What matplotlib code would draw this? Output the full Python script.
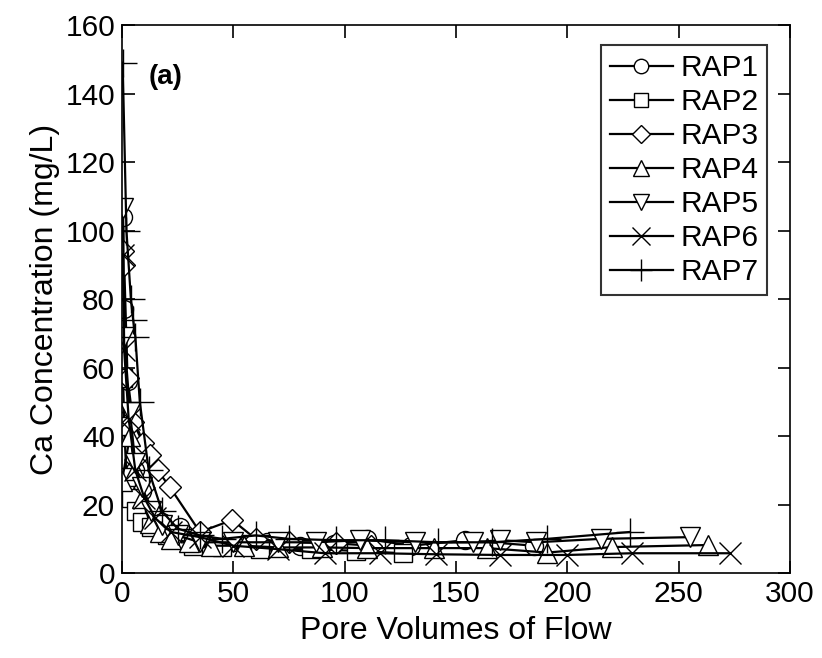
import matplotlib
matplotlib.use("Agg")
import matplotlib.pyplot as plt

plt.rcParams['font.family'] = ['Liberation Sans', 'DejaVu Sans']

rap1_x = [0.5, 1.0, 2.5, 4, 6, 9, 13, 18, 26, 35, 50, 65, 80, 95, 110, 130, 154, 185]
rap1_y = [104, 77, 56, 40, 30, 24, 18, 15, 13.5, 10, 9, 9, 8, 8.5, 10, 8, 9.6, 8]

rap2_x = [0.5, 1, 2, 4, 6.5, 9, 13, 20, 32, 45, 62, 85, 105, 126]
rap2_y = [57, 43, 28, 22, 18, 15, 13.5, 11, 8, 7.5, 7, 7, 6.5, 5.8]

rap3_x = [0.5, 1, 2.5, 5, 9.5, 12.6, 16, 21.6, 35, 49.5, 60, 75, 96, 112]
rap3_y = [94, 90, 57, 44, 38, 34.5, 30, 25, 12, 15.5, 10, 9, 8.7, 8]

rap4_x = [0, 3.6, 6, 9, 12.6, 17, 22, 30, 40, 55, 70, 90, 110, 140, 164, 191, 220, 263]
rap4_y = [27, 40, 30, 22, 14.5, 12, 10, 9, 8, 8, 7.5, 7.5, 7.3, 7.3, 7.3, 6, 7.6, 8.2]

rap5_x = [0.5, 1, 3.6, 6, 9, 13, 18, 25, 35, 50, 70, 87, 107, 131.5, 157.6, 170, 186, 215, 255]
rap5_y = [106.5, 69, 47, 32, 25, 18, 14, 11, 9, 9, 9, 9, 9.6, 9, 9, 9.6, 9, 10, 10.5]

rap6_x = [0.5, 1, 3, 6, 10, 15, 22, 35, 50, 70, 91, 116, 141, 170, 200, 229, 273]
rap6_y = [93, 65, 45, 30, 22, 16, 12, 10.5, 8, 7, 5.8, 5.8, 5.5, 5.3, 5.3, 5.8, 5.8]

rap7_x = [0.3, 2, 4, 5, 6, 8, 12, 18, 25, 35, 45, 60, 75, 96, 118, 142, 166, 191, 228]
rap7_y = [149, 100, 80, 74, 69, 50, 30, 18, 13, 11, 10, 11, 10, 9.6, 9.6, 9, 9, 10, 12]

labels = ["RAP1", "RAP2", "RAP3", "RAP4", "RAP5", "RAP6", "RAP7"]
markers = ["o", "s", "D", "^", "v", "x", "+"]
sizes = [13, 13, 11, 14, 14, 16, 20]
xticks = [0, 50, 100, 150, 200, 250, 300]
yticks = [0, 20, 40, 60, 80, 100, 120, 140, 160]

series = [(rap1_x, rap1_y), (rap2_x, rap2_y), (rap3_x, rap3_y), (rap4_x, rap4_y),
          (rap5_x, rap5_y), (rap6_x, rap6_y), (rap7_x, rap7_y)]

fig = plt.figure(figsize=(8.22, 6.58), dpi=100)
ax = fig.add_axes([0.1484, 0.129, 0.8126, 0.833])

for (x, y), lab, m, s in zip(series, labels, markers, sizes):
    ax.plot(x, y, color='black', linewidth=1.6, marker=m, markersize=s,
            markerfacecolor='white', markeredgecolor='black', markeredgewidth=1.0,
            label=lab)

ax.set_xlim(0, 300)
ax.set_ylim(0, 160)
ax.set_xticks(xticks)
ax.set_yticks(yticks)
ax.tick_params(direction='in', length=9, width=1.2, top=True, right=True,
               labelsize=21.5, pad=5)
for sp in ax.spines.values():
    sp.set_linewidth(1.2)

ax.set_xlabel("Pore Volumes of Flow", fontsize=23, labelpad=6)
ax.set_ylabel("Ca Concentration (mg/L)", fontsize=23, labelpad=4)

ax.text(0.04, 0.905, "(a)", transform=ax.transAxes, fontsize=20,
        fontweight='bold', va='center', ha='left')

leg = ax.legend(loc='upper right', bbox_to_anchor=(0.966, 0.963), fontsize=21.5,
                frameon=True, fancybox=False, edgecolor='black', handlelength=2.1,
                borderpad=0.3, labelspacing=0.2, handletextpad=0.25,
                borderaxespad=0.0, markerscale=0.8)
leg.get_frame().set_linewidth(1.5)

fig.savefig("out.png", dpi=100)
